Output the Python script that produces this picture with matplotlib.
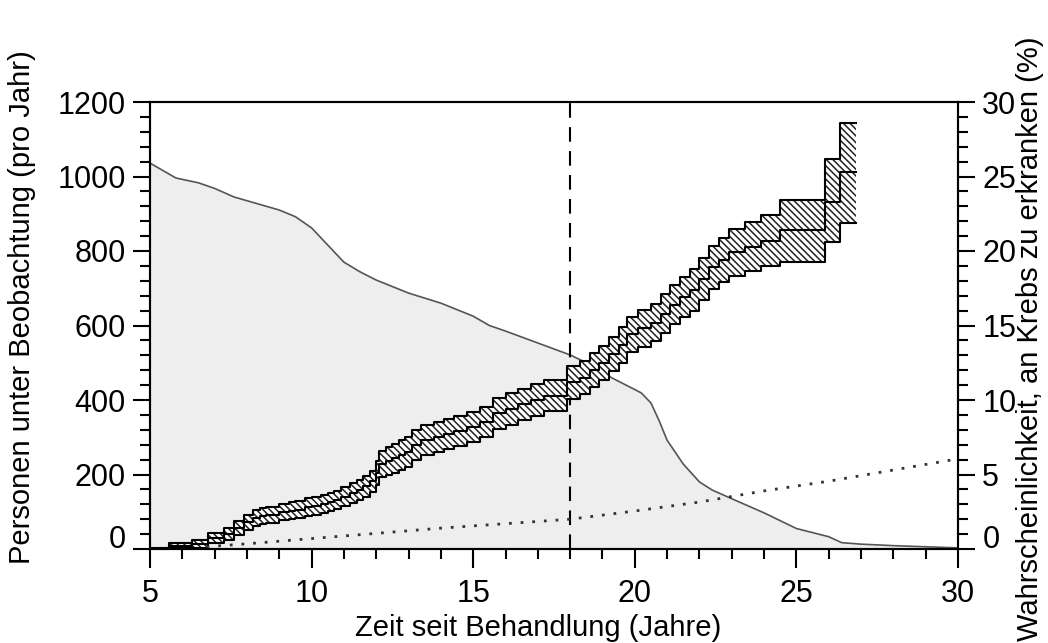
import numpy as np
import matplotlib
matplotlib.use('Agg')
import matplotlib.pyplot as plt
from matplotlib.ticker import MultipleLocator
from matplotlib.transforms import ScaledTranslation

plt.rcParams['font.family'] = ['Liberation Sans', 'DejaVu Sans']
plt.rcParams['hatch.linewidth'] = 1.1

# persons under observation (left axis)
t_obs = [5.0, 5.8, 6.5, 7.0, 7.6, 8.6, 9.0, 9.5, 10.0, 10.5, 11.0, 11.5, 12.0,
         13.0, 14.0, 15.0, 15.5, 16.0, 16.75, 17.0, 18.0, 18.5, 19.0, 19.3,
         20.0, 20.2, 20.5, 20.75, 21.0, 21.5, 22.0, 22.4, 23.0, 24.0, 25.0,
         26.0, 26.4, 27.0, 28.0, 29.0, 30.0]
persons = [1036, 996, 983, 968, 945, 920, 910, 892, 862, 816, 770, 744, 722,
           687, 660, 625, 600, 585, 561, 553, 521, 500, 475, 459,
           428, 419, 392, 345, 292, 228, 180, 158, 135, 97, 55,
           33, 17, 13, 9, 6, 3]

# cumulative cancer incidence, step estimate with confidence band (right axis, %)
t_step = [5.0, 5.6, 6.3, 6.8, 7.3, 7.6, 7.9, 8.2, 8.4, 8.6, 9.0, 9.3, 9.5,
          9.8, 10.0, 10.3, 10.5, 10.7, 10.9, 11.2, 11.4, 11.6, 11.8, 12.0,
          12.1, 12.3, 12.5, 12.7, 12.9, 13.1, 13.4, 13.8, 14.1, 14.4, 14.8,
          15.2, 15.6, 16.0, 16.4, 16.8, 17.2, 17.9, 18.3, 18.6, 18.9, 19.2,
          19.5, 19.75, 20.1, 20.5, 20.8, 21.1, 21.4, 21.7, 22.0, 22.3, 22.6,
          22.9, 23.4, 23.9, 24.5, 25.9, 26.35, 26.85]
est = [0.0, 0.2, 0.35, 0.75, 1.0, 1.4, 1.8, 2.05, 2.2, 2.3, 2.5, 2.55, 2.65,
       2.8, 2.9, 3.0, 3.15, 3.3, 3.5, 3.75, 3.95, 4.2, 4.55, 5.1,
       5.7, 5.9, 6.1, 6.3, 6.5, 7.0, 7.3, 7.5, 7.7, 7.9, 8.2,
       8.5, 9.1, 9.4, 9.7, 10.0, 10.3, 11.2, 11.5, 12.0, 12.5, 13.1,
       13.7, 14.4, 14.8, 15.2, 15.8, 16.4, 16.9, 17.4, 18.1, 18.9, 19.4,
       19.9, 20.3, 20.7, 21.4, 23.3, 25.3, 25.3]
lower = [0.0, 0.05, 0.1, 0.4, 0.6, 0.95, 1.3, 1.55, 1.65, 1.75, 1.95, 2.0, 2.1,
         2.2, 2.3, 2.4, 2.55, 2.7, 2.9, 3.1, 3.3, 3.5, 3.85, 4.3,
         4.8, 4.95, 5.1, 5.3, 5.5, 6.0, 6.3, 6.5, 6.7, 6.9, 7.2,
         7.5, 8.05, 8.35, 8.65, 8.95, 9.25, 10.1, 10.4, 10.85, 11.35, 11.95,
         12.5, 13.2, 13.55, 13.95, 14.5, 15.1, 15.55, 16.0, 16.7, 17.45, 17.9,
         18.3, 18.65, 19.0, 19.25, 20.6, 21.9, 21.9]
upper = [0.1, 0.4, 0.6, 1.1, 1.4, 1.85, 2.3, 2.6, 2.75, 2.85, 3.05, 3.15, 3.25,
         3.4, 3.5, 3.6, 3.75, 3.9, 4.15, 4.4, 4.6, 4.9, 5.25, 5.9,
         6.6, 6.85, 7.05, 7.3, 7.5, 8.0, 8.3, 8.5, 8.7, 8.9, 9.2,
         9.5, 10.15, 10.45, 10.75, 11.05, 11.35, 12.3, 12.6, 13.15, 13.65, 14.25,
         14.9, 15.6, 16.05, 16.45, 17.1, 17.7, 18.25, 18.8, 19.55, 20.35, 20.9,
         21.5, 21.95, 22.4, 23.4, 26.2, 28.6, 28.6]

# expected incidence in the general population (%)
t_exp = [6.75, 8, 10, 12, 14, 16, 18, 20, 22, 24, 26, 28, 30]
expected = [0.15, 0.35, 0.7, 1.05, 1.4, 1.7, 2.0, 2.55, 3.15, 3.9, 4.55, 5.3, 6.05]

fig = plt.figure(figsize=(10.48, 6.43), dpi=100)
ax = fig.add_axes([150 / 1048, 1 - 549 / 643, 808 / 1048, 447 / 643])
ax2 = ax.twinx()

ax.fill_between(t_obs, persons, 0, color='#eeeeee', lw=0, zorder=1)
ax.plot(t_obs, persons, color='#555555', lw=1.2, zorder=2)
ax.axvline(18, color='black', lw=1.5, dashes=(7, 4.5), zorder=3)

hatch = '\\' * 5
ax2.fill_between(t_step, est, upper, step='post', facecolor='white',
                 edgecolor='#222222', hatch=hatch, lw=0, zorder=2)
ax2.fill_between(t_step, lower, est, step='post', facecolor='white',
                 edgecolor='#222222', hatch=hatch, lw=0, zorder=2)
for y in (lower, est, upper):
    ax2.step(t_step, y, where='post', color='black', lw=1.5, zorder=3)
ax2.plot(t_exp, expected, color='#333333', lw=2, linestyle=(0, (1, 3.2)),
         zorder=3)

ax.set_xlim(5, 30)
ax.set_ylim(0, 1200)
ax2.set_ylim(0, 30)
ax.xaxis.set_major_locator(MultipleLocator(5))
ax.xaxis.set_minor_locator(MultipleLocator(1))
ax.set_yticks(np.arange(0, 1201, 200))
ax.yaxis.set_minor_locator(MultipleLocator(40))
ax2.set_yticks(np.arange(0, 31, 5))
ax2.yaxis.set_minor_locator(MultipleLocator(1))

for a in (ax, ax2):
    for s in a.spines.values():
        s.set_linewidth(1.5)
ax.tick_params(axis='both', which='both', direction='out', width=1.5,
               labelsize=22)
ax.tick_params(axis='x', which='major', length=13.5, pad=8)
ax.tick_params(axis='y', which='major', length=12.5, pad=5)
ax.tick_params(axis='both', which='minor', length=7)
ax2.tick_params(axis='y', which='both', direction='out', width=1.5,
                labelsize=22)
ax2.tick_params(axis='y', which='major', length=12.5, pad=5)
ax2.tick_params(axis='y', which='minor', length=7)

# lift the zero labels off the baseline
lift = ScaledTranslation(0, 0.12, fig.dpi_scale_trans)
lab = ax.yaxis.get_major_ticks()[0].label1
lab.set_transform(lab.get_transform() + lift)
lab = ax2.yaxis.get_major_ticks()[0].label2
lab.set_transform(lab.get_transform() + lift)

fig.text(22 / 1048, 1 - 307 / 643, 'Personen unter Beobachtung (pro Jahr)',
         rotation=90, ha='center', va='center', fontsize=21)
fig.text(1030 / 1048, 1 - 339 / 643,
         'Wahrscheinlichkeit, an Krebs zu erkranken (%)',
         rotation=90, ha='center', va='center', fontsize=21)
fig.text(538 / 1048, 0.002, 'Zeit seit Behandlung (Jahre)',
         ha='center', va='bottom', fontsize=21)

fig.savefig('out.png', dpi=100)
